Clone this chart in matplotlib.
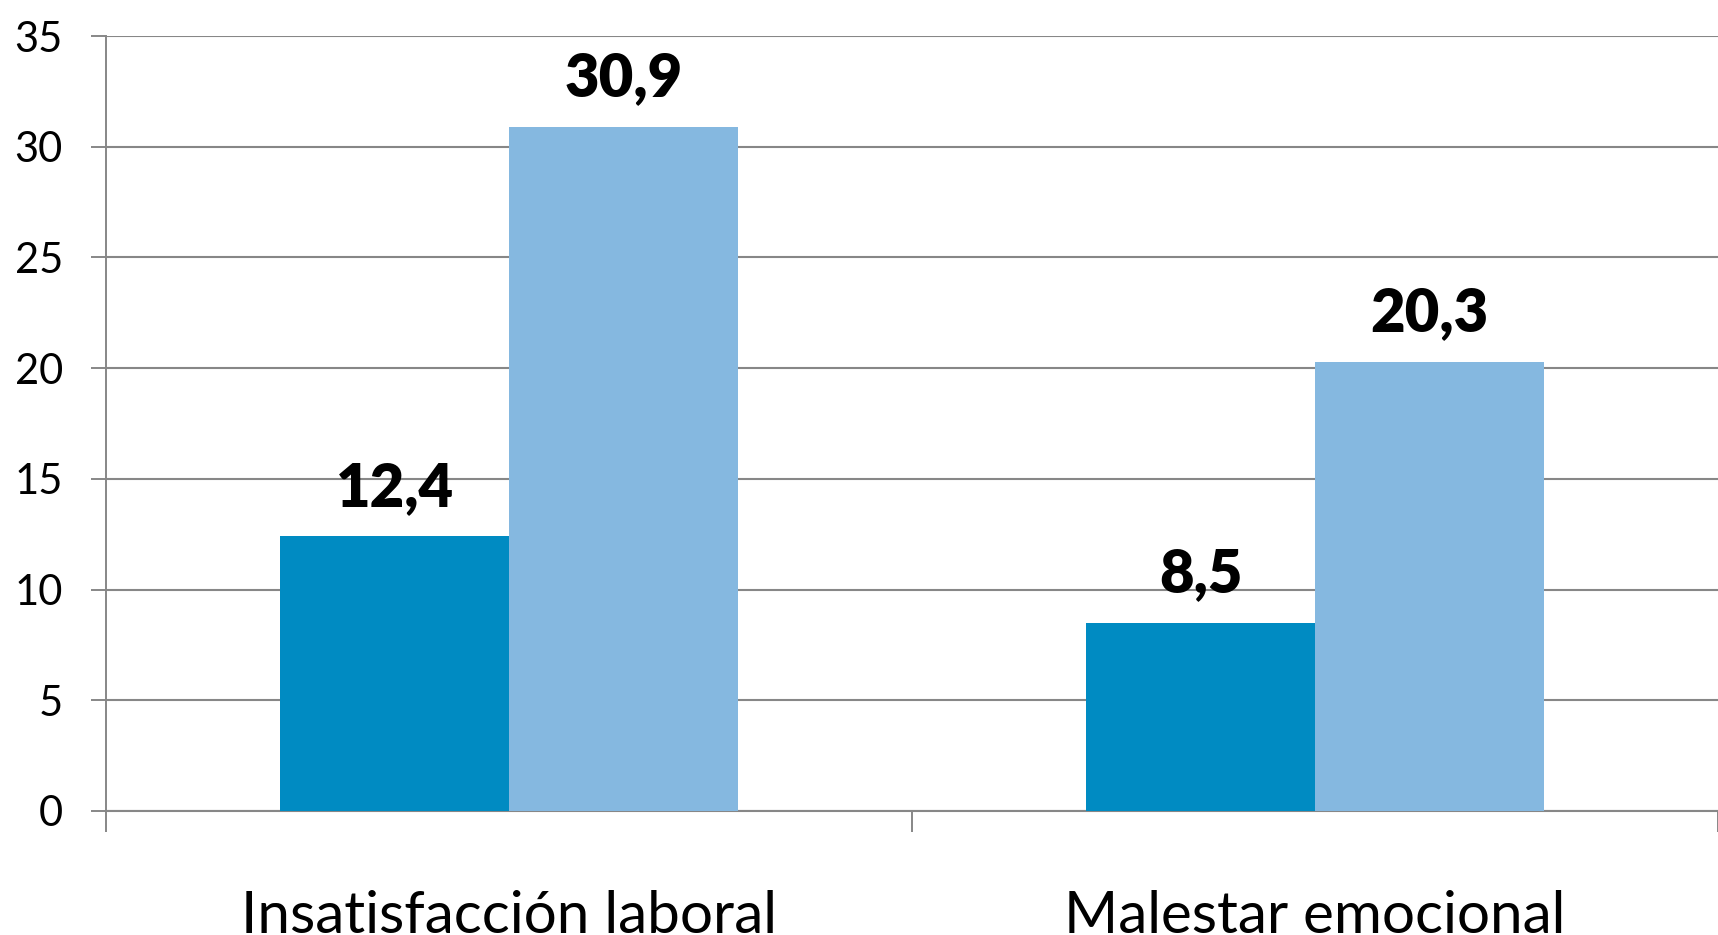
import matplotlib.pyplot as plt
import numpy as np

categories = ['Insatisfacción laboral', 'Malestar emocional']
serie_a = [12.4, 8.5]
serie_b = [30.9, 20.3]
etiquetas_a = ['12,4', '8,5']
etiquetas_b = ['30,9', '20,3']

plt.rcParams['font.family'] = ['Lato', 'DejaVu Sans']

fig = plt.figure(figsize=(17.18, 9.35), dpi=100)
ax = fig.add_axes([106 / 1718, 124 / 935, 1 - 106 / 1718, (811 - 36) / 935])

x = np.arange(len(categories))
w = 0.284
bars_a = ax.bar(x - w / 2, serie_a, w, color='#008BC2', zorder=3)
bars_b = ax.bar(x + w / 2, serie_b, w, color='#85B8E0', zorder=3)

for bars, labels in [(bars_a, etiquetas_a), (bars_b, etiquetas_b)]:
    for b, t in zip(bars, labels):
        ax.annotate(t, (b.get_x() + b.get_width() / 2, b.get_height()),
                    xytext=(0, 22), textcoords='offset points',
                    ha='center', va='baseline', fontsize=43, fontweight='heavy')

ax.set_xlim(-0.5, 1.48)
ax.set_ylim(0, 35)
ax.set_yticks(range(0, 36, 5))
ax.tick_params(axis='y', labelsize=30, length=11, width=1.4, color='#878787', pad=20)
ax.grid(axis='y', color='#878787', linewidth=1.5, zorder=0)

ax.set_xticks(x, categories)
ax.set_xticks([-0.5, 0.5, 1.5], minor=True)
ax.tick_params(axis='x', which='major', length=0, labelsize=42, pad=57)
ax.tick_params(axis='x', which='minor', length=15, width=1.4, color='#878787')

for s in ['top', 'right']:
    ax.spines[s].set_visible(False)
ax.spines['left'].set_color('#878787')
ax.spines['left'].set_linewidth(1.4)
ax.spines['bottom'].set_color('#878787')
ax.spines['bottom'].set_linewidth(1.5)

fig.savefig('out.png', dpi=100)
